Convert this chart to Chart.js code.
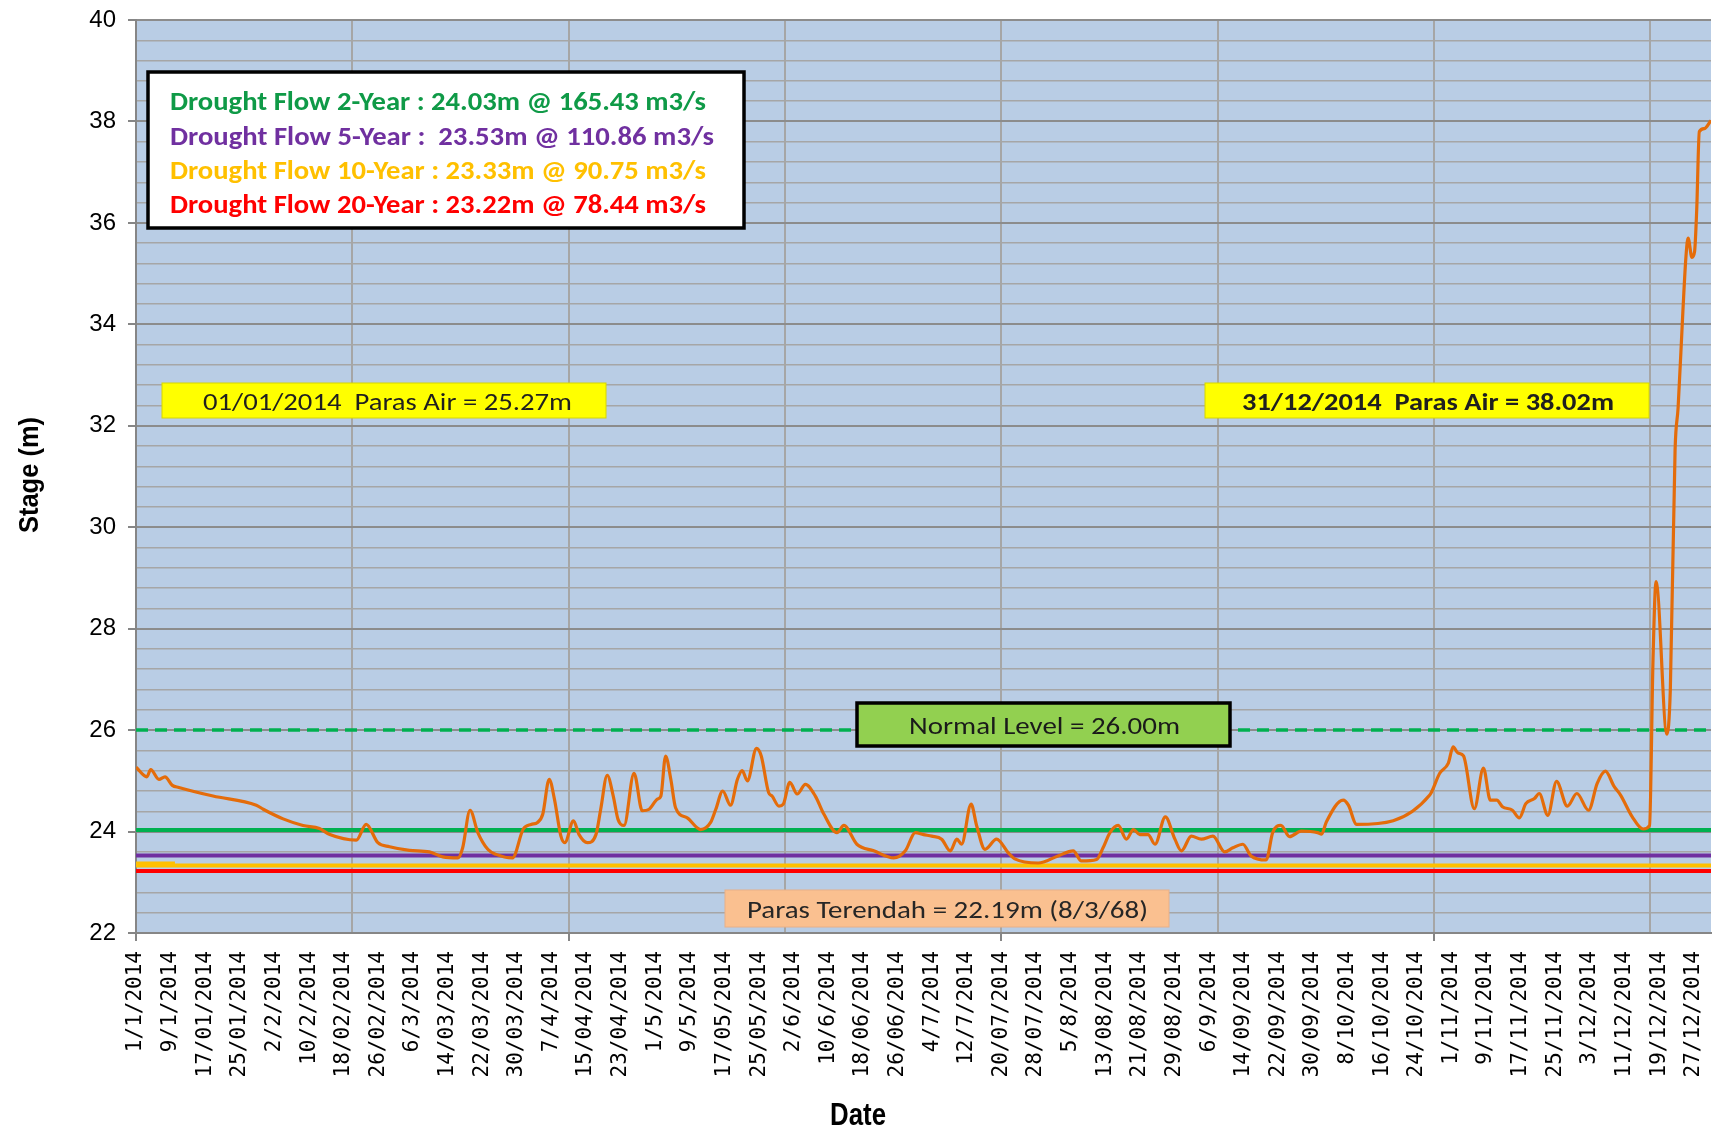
<!DOCTYPE html>
<html>
<head>
<meta charset="utf-8">
<title>Stage 2014</title>
<script src="https://cdn.jsdelivr.net/npm/chart.js@4.4.1/dist/chart.umd.min.js"></script>
<style>
  html, body { margin: 0; padding: 0; background: #fff; }
</style>
</head>
<body>
<canvas id="stageChart" width="1722" height="1130"></canvas>
<script>
// --- DATA ---
// x tick labels, one every 8 days starting on day 0 (1 Jan)
const tickLabels = [
    '1/1/2014', '9/1/2014', '17/01/2014', '25/01/2014', '2/2/2014', '10/2/2014',
    '18/02/2014', '26/02/2014', '6/3/2014', '14/03/2014', '22/03/2014', '30/03/2014',
    '7/4/2014', '15/04/2014', '23/04/2014', '1/5/2014', '9/5/2014', '17/05/2014',
    '25/05/2014', '2/6/2014', '10/6/2014', '18/06/2014', '26/06/2014', '4/7/2014',
    '12/7/2014', '20/07/2014', '28/07/2014', '5/8/2014', '13/08/2014', '21/08/2014',
    '29/08/2014', '6/9/2014', '14/09/2014', '22/09/2014', '30/09/2014', '8/10/2014',
    '16/10/2014', '24/10/2014', '1/11/2014', '9/11/2014', '17/11/2014', '25/11/2014',
    '3/12/2014', '11/12/2014', '19/12/2014', '27/12/2014'
];
const yMajorTicks = [22, 24, 26, 28, 30, 32, 34, 36, 38, 40];

// daily stage readings (day of year from 0, metres)
const stageDays = [
    0, 2.5, 3.4, 5.3, 6.7, 8.4, 9.9, 17.8, 27.8, 29.4, 34, 38.6, 42.4, 44.8, 50.9,
    53.2, 55.9, 58.6, 63.2, 67.8, 70.9, 74.4, 75.5, 77.2, 79, 81.3, 83.2, 87, 89.5,
    91.3, 92.8, 94, 95.5, 96.7, 98.2, 99.1, 101.1, 102.4, 104.3, 106.3, 107.4, 108.9,
    110.3, 111.4, 112.8, 115.1, 117, 118.6, 120.5, 121.3, 122.4, 123.6, 124.7, 127.4,
    130.5, 132.8, 134, 135.6, 137.4, 139, 140.1, 141.3, 143.4, 144.5, 146.2, 147,
    148.6, 149.6, 151.1, 152.8, 154.7, 157, 159, 162, 163.6, 166.6, 170.5, 175.1,
    177.8, 180.1, 182, 183.9, 186.2, 188.2, 189.7, 190.8, 193, 194.3, 196.2, 198.9,
    201.6, 203.1, 208.5, 213.1, 216.6, 218.5, 222, 223.5, 225.1, 227, 228.9, 230.5,
    232, 233.9, 235.5, 237.9, 240.1, 241.6, 243.9, 246.2, 248.9, 251.6, 253.5, 255.8,
    257.7, 261.2, 262.7, 264.6, 266.6, 269.3, 273.1, 274, 275.1, 279, 280.2, 282.1,
    299, 301.3, 303.3, 304.4, 305.5, 306.8, 309.3, 311.4, 313, 314.5, 315.8, 318.1,
    319.7, 321.2, 323.2, 324.3, 326.3, 328.3, 330.8, 333, 335.7, 337.7, 339.6, 341.6,
    343.1, 345.8, 348.3, 349.8, 350.6, 351.3, 353.8, 354.6, 355.7, 356.4, 357.5,
    358.2, 358.7, 359.6, 360.2, 360.7, 361.3, 362.5, 364
];
const stageValues = [
    25.27, 25.08, 25.22, 25.03, 25.08, 24.91, 24.87, 24.70, 24.52, 24.44, 24.25, 24.12, 24.06, 23.94, 23.83,
    24.14, 23.78, 23.70, 23.63, 23.60, 23.50, 23.48, 23.68, 24.42, 23.98, 23.65, 23.55, 23.48, 24.05,
    24.14, 24.18, 24.34, 25.03, 24.64, 23.91, 23.78, 24.21, 23.94, 23.78, 23.94, 24.44, 25.11,
    24.70, 24.24, 24.12, 25.15, 24.41, 24.44, 24.64, 24.70, 25.49, 25.03, 24.47, 24.27,
    24.04, 24.18, 24.44, 24.80, 24.52, 25.03, 25.20, 25.00, 25.64, 25.49, 24.77, 24.70,
    24.50, 24.54, 24.97, 24.74, 24.93, 24.70, 24.34, 23.98, 24.12, 23.75, 23.62, 23.48,
    23.62, 23.98, 23.94, 23.91, 23.85, 23.62, 23.85, 23.75, 24.54, 24.11, 23.65, 23.85,
    23.58, 23.46, 23.38, 23.52, 23.62, 23.42, 23.45, 23.68, 23.98, 24.12, 23.85, 24.04,
    23.94, 23.94, 23.75, 24.29, 23.85, 23.62, 23.91, 23.85, 23.91, 23.60, 23.68, 23.75,
    23.52, 23.44, 23.98, 24.12, 23.90, 24.01, 23.98, 23.95, 24.19, 24.62, 24.52, 24.14,
    24.72, 25.15, 25.35, 25.67, 25.55, 25.49, 24.45, 25.25, 24.62, 24.62, 24.49, 24.42,
    24.27, 24.55, 24.65, 24.75, 24.32, 24.99, 24.50, 24.75, 24.42, 24.95, 25.19, 24.89,
    24.72, 24.29, 24.05, 24.12, 27.40, 28.93, 25.92, 26.80, 31.53, 32.36, 34.25,
    35.32, 35.70, 35.32, 35.43, 36.26, 37.80, 37.86, 38.02
];

const lineEnds = [0, 364];
const normalLevel = 26.00;
const droughtLevels = [24.03, 23.53, 23.33, 23.22];   // 2, 5, 10, 20-year
const flow10StartDays = [0, 9];
const flow10StartValue = 23.37;

const legendLines = [
    'Drought Flow 2-Year : 24.03m @ 165.43 m3/s',
    'Drought Flow 5-Year :  23.53m @ 110.86 m3/s',
    'Drought Flow 10-Year : 23.33m @ 90.75 m3/s',
    'Drought Flow 20-Year : 23.22m @ 78.44 m3/s'
];

// --- STYLE ---
const droughtColors = ['#00B050', '#7030A0', '#FFC000', '#FF0000'];
const legendTextColors = ['#0F9A47', '#7030A0', '#FFC000', '#FF0000'];
const boxFont = 'Carlito, Calibri, Lato, sans-serif';

Chart.defaults.font.family = '"Liberation Sans", Arial, sans-serif';
Chart.defaults.color = '#000';

// x ticks: labels every 8 days, gridlines every 50 days
const xTickDays = [];
for (let d = 0; d <= 360; d += 8) xTickDays.push(d);
for (let d = 50; d <= 350; d += 50) if (!xTickDays.includes(d)) xTickDays.push(d);
xTickDays.sort((a, b) => a - b);

// y ticks: minor gridlines every 0.4 m
const yTickValues = [];
for (let i = 0; i <= 45; i++) yTickValues.push(Math.round((22 + i * 0.4) * 10) / 10);
const isMajorY = v => yMajorTicks.includes(v);

function flatLine(value) {
    return lineEnds.map(d => ({ x: d, y: value }));
}

// draw text fitted to a measured width and cap height
function fitText(ctx, text, x0, x1, mid, capH, weight, family, color) {
    const size = capH / 0.72;
    ctx.font = weight + ' ' + size.toFixed(1) + 'px ' + family;
    const w = ctx.measureText(text).width;
    ctx.save();
    ctx.translate(x0, mid + capH / 2);
    ctx.scale((x1 - x0) / w, 1);
    ctx.fillStyle = color;
    ctx.textAlign = 'left';
    ctx.textBaseline = 'alphabetic';
    ctx.fillText(text, 0, 0);
    ctx.restore();
}

function box(ctx, x, y, w, h, fill, stroke, lw) {
    ctx.fillStyle = fill;
    ctx.fillRect(x, y, w, h);
    if (stroke) {
        ctx.strokeStyle = stroke;
        ctx.lineWidth = lw;
        ctx.strokeRect(x, y, w, h);
    }
}

// --- PLUGINS ---
const plotBackground = {
    id: 'plotBackground',
    beforeDraw(chart) {
        const { ctx, chartArea: a } = chart;
        ctx.save();
        ctx.fillStyle = '#fff';
        ctx.fillRect(0, 0, chart.width, chart.height);
        ctx.fillStyle = '#B9CDE5';
        ctx.fillRect(a.left, a.top, a.right - a.left, a.bottom - a.top);
        ctx.restore();
    }
};

const notes = {
    id: 'notes',
    afterDraw(chart) {
        const ctx = chart.ctx;
        ctx.save();

        // legend box
        box(ctx, 148, 72, 596, 156, '#fff', '#000', 3.5);
        const lineMid = [100, 135, 169, 203];
        const lineEnd = [706, 714, 706, 706];
        legendLines.forEach((t, i) => {
            fitText(ctx, t, 170, lineEnd[i], lineMid[i], 19, 'bold', boxFont, legendTextColors[i]);
        });

        // first and last readings
        box(ctx, 162, 383, 444, 35, '#FFFF00', '#D6D600', 1);
        fitText(ctx, '01/01/2014  Paras Air = 25.27m', 203, 572, 401, 17, 'normal', boxFont, '#1f1f1f');
        box(ctx, 1205, 383, 444, 35, '#FFFF00', '#D6D600', 1);
        fitText(ctx, '31/12/2014  Paras Air = 38.02m', 1242, 1614, 401, 17, 'bold', boxFont, '#1f1f1f');

        // normal level
        box(ctx, 857, 703, 373, 43, '#92D050', '#000', 3.5);
        fitText(ctx, 'Normal Level = 26.00m', 909, 1180, 725, 18, 'normal', boxFont, '#1a1a1a');

        // lowest recorded
        box(ctx, 725, 890, 444, 37, '#FAC090', '#E8B088', 1);
        fitText(ctx, 'Paras Terendah = 22.19m (8/3/68)', 747, 1148, 909, 17, 'normal', boxFont, '#262626');

        // axis titles
        fitText(ctx, 'Date', 830, 886, 1113, 23, 'bold', '"Liberation Sans", Arial, sans-serif', '#000');
        const size = 20 / 0.72;
        ctx.font = 'bold ' + size.toFixed(1) + 'px "Liberation Sans", Arial, sans-serif';
        const w = ctx.measureText('Stage (m)').width;
        ctx.translate(38, 533);
        ctx.rotate(-Math.PI / 2);
        ctx.scale(116 / w, 1);
        ctx.fillStyle = '#000';
        ctx.textAlign = 'left';
        ctx.textBaseline = 'alphabetic';
        ctx.fillText('Stage (m)', 0, 0);

        ctx.restore();
    }
};

// --- CHART ---
const stageCtx = document.getElementById('stageChart');

const datasets = [
    {
        label: 'Stage',
        data: stageDays.map((d, i) => ({ x: d, y: stageValues[i] })),
        borderColor: '#E46C0A',
        borderWidth: 3.2,
        cubicInterpolationMode: 'monotone',
        pointRadius: 0
    },
    {
        label: 'Normal Level',
        data: flatLine(normalLevel),
        borderColor: '#00B050',
        borderWidth: 3.5,
        borderDash: [12, 7],
        pointRadius: 0
    }
];
droughtLevels.forEach((lv, i) => {
    datasets.push({
        label: legendLines[i],
        data: flatLine(lv),
        borderColor: droughtColors[i],
        borderWidth: 4,
        pointRadius: 0
    });
});
datasets.push({
    label: '10-Year start',
    data: flow10StartDays.map(d => ({ x: d, y: flow10StartValue })),
    borderColor: droughtColors[2],
    borderWidth: 4,
    pointRadius: 0
});

new Chart(stageCtx, {
    type: 'line',
    data: { datasets: datasets },
    options: {
        responsive: false,
        animation: false,
        layout: { padding: { top: 20, right: 11, left: 0, bottom: 0 } },
        plugins: {
            legend: { display: false },
            tooltip: { enabled: false }
        },
        scales: {
            x: {
                type: 'linear',
                min: 0,
                max: 364,
                afterBuildTicks: scale => { scale.ticks = xTickDays.map(v => ({ value: v })); },
                afterFit: scale => {
                    scale.height = 197;
                    scale.paddingLeft = 0;
                    scale.paddingRight = 0;
                },
                ticks: {
                    autoSkip: false,
                    minRotation: 90,
                    maxRotation: 90,
                    padding: 10,
                    color: '#000',
                    font: { family: '"DejaVu Sans Mono", monospace', size: 21 },
                    callback: value => (value % 8 === 0 ? tickLabels[value / 8] : '')
                },
                grid: {
                    color: c => (c.tick && c.tick.value % 50 === 0 && c.tick.value > 0 ? '#A6A6A6' : 'rgba(0,0,0,0)'),
                    lineWidth: 2,
                    tickLength: 8,
                    tickColor: c => (c.tick && c.tick.value % 100 === 0 ? '#868686' : 'rgba(0,0,0,0)'),
                    tickWidth: 2
                },
                border: { color: '#868686', width: 2 }
            },
            y: {
                type: 'linear',
                min: 22,
                max: 40,
                afterBuildTicks: scale => { scale.ticks = yTickValues.map(v => ({ value: v })); },
                afterFit: scale => {
                    scale.width = 136;
                    scale.paddingTop = 0;
                    scale.paddingBottom = 0;
                },
                ticks: {
                    autoSkip: false,
                    padding: 12,
                    color: '#000',
                    font: { size: 24 },
                    callback: value => (isMajorY(value) ? String(value) : '')
                },
                grid: {
                    color: c => (c.tick && isMajorY(c.tick.value) ? '#8C8C8C' : '#A6A6A6'),
                    lineWidth: c => (c.tick && isMajorY(c.tick.value) ? 2 : 1.5),
                    tickLength: 8,
                    tickColor: c => (c.tick && isMajorY(c.tick.value) ? '#868686' : 'rgba(0,0,0,0)'),
                    tickWidth: 2
                },
                border: { color: '#868686', width: 2 }
            }
        }
    },
    plugins: [plotBackground, notes]
});
</script>
</body>
</html>
